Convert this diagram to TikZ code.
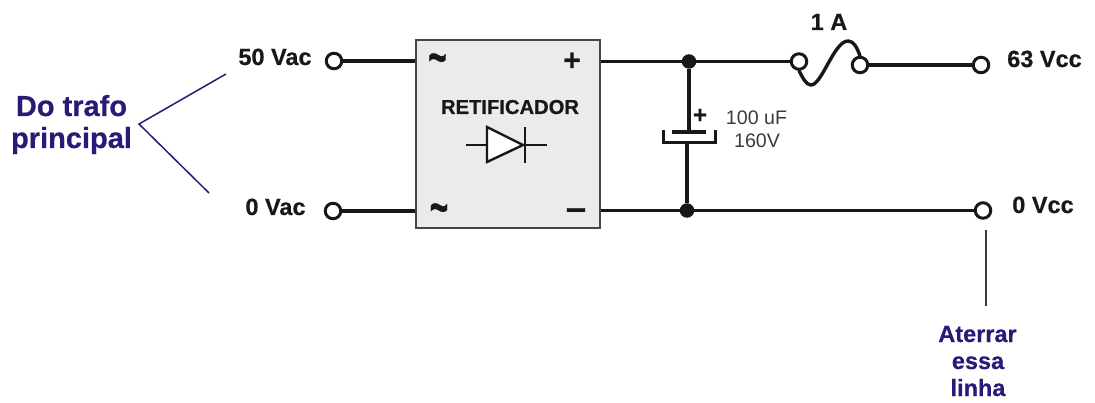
\documentclass[tikz,border=0pt]{standalone}
\usepackage{graphicx}
\usepackage{fontspec}
\setmainfont[BoldFeatures={FakeBold=0.5}]{Liberation Sans}
\definecolor{navy}{HTML}{2A1A78}
\definecolor{ink}{HTML}{1A1718}
\tikzset{
  wire/.style={draw=ink,line width=3.4pt},
  thin wire/.style={draw=ink,line width=2.4pt},
  term/.style={circle,draw=ink,line width=3pt,fill=white,minimum size=15.5pt,inner sep=0pt},
  fuseterm/.style={circle,draw=ink,line width=3pt,fill=white,minimum size=15.5pt,inner sep=0pt},
  dot/.style={circle,fill=ink,minimum size=14.5pt,inner sep=0pt},
  lbl/.style={anchor=base,font=\bfseries\fontsize{23.5}{27}\selectfont,text=ink,inner sep=0pt},
  blue/.style={anchor=base,font=\bfseries\fontsize{29}{33}\selectfont,text=navy,inner sep=0pt},
  bluesm/.style={anchor=base,font=\bfseries\fontsize{23.5}{27}\selectfont,text=navy,inner sep=0pt},
  val/.style={anchor=base,font=\fontsize{19.6}{23}\selectfont,text=ink!85,inner sep=0pt},
  sign/.style={anchor=center,font=\bfseries\fontsize{30}{30}\selectfont,text=ink,inner sep=0pt},
  navyline/.style={draw=navy,line width=1.5pt},
}
\begin{document}
\begin{tikzpicture}[x=1pt,y=-1pt]
\useasboundingbox (0,0) rectangle (1095,403);
% labels
\node[lbl] (l50) at (275,65) {50 Vac};
\node[lbl] (l0) at (275.5,215) {0 Vac};
\node[lbl] (l63) at (1044.5,67) {63 Vcc};
\node[lbl] (l0c) at (1043,213) {0 Vcc};
\node[lbl] (l1a) at (829,30) {1 A};
\node[blue] (do) at (71.5,116) {Do trafo};
\node[blue] (pr) at (71.5,148) {principal};
\node[bluesm] (at1) at (977.5,342) {Aterrar};
\node[bluesm] (at2) at (978,369) {essa};
\node[bluesm] (at3) at (978,396) {linha};
\node[val] (v1) at (756.5,125) {100 uF};
\node[val] (v2) at (757,148) {160V};
% bridge
\node[draw=ink!80,line width=1.4pt,fill=black!8,minimum width=184pt,minimum height=188pt,inner sep=0pt] (box) at (508,134) {};
\node[anchor=base,font=\bfseries\fontsize{20.2}{24}\selectfont,text=ink,inner sep=0pt] (ret) at (510,114) {RETIFICADOR};
\node[sign] (s1) at (437.5,64.5) {\scalebox{1}[1.7]{\fontsize{32}{32}\selectfont\char"007E}};
\node[sign] (s2) at (439,214.5) {\scalebox{1}[1.7]{\fontsize{32}{32}\selectfont\char"007E}};
\node[sign] (s3) at (572,61.5) {+};
\node[sign] (s4) at (576,214) {\fontsize{36}{36}\selectfont\char"2013};
% terminals
\node[term] (t50) at (334,61) {};
\node[term] (t0) at (333,211) {};
\node[term] (t63) at (981,65) {};
\node[term] (t0c) at (983,210.5) {};
\node[fuseterm] (f1) at (799,61.5) {};
\node[fuseterm] (f2) at (860,65) {};
\node[dot] (j1) at (689,61.5) {};
\node[dot] (j2) at (687,210.5) {};
\coordinate (b1l) at (box.west |- t50);
\coordinate (b2l) at (box.west |- t0);
\coordinate (b1r) at (box.east |- j1);
\coordinate (b2r) at (box.east |- j2);
% wires
\draw[wire] (t50) -- (b1l);
\draw[wire] (t0) -- (b2l);
\draw[wire] (b1r) -- (j1) -- (f1);
\draw[wire] (b2r) -- (j2) -- (t0c);
\draw[wire] (f2) -- (t63);
% fuse
\draw[wire,line cap=round] (f1.south) .. controls (803,78) and (806,85) .. (811,85)
  .. controls (822,85) and (834,41) .. (848,41) .. controls (854,41) and (857,48) .. (f2.north);
% capacitor
\coordinate (cp) at (j1 |- 0,131);
\coordinate (cn) at (j2 |- 0,142);
\draw[wire] (j1) -- (cp);
\draw[wire] (cn) -- (j2);
\draw[draw=ink,line width=3.6pt] (672,132) -- (706,132);
\draw[draw=ink,line width=3.4pt,line join=miter] (663.5,130.5) -- (663.5,142.5) -- (715.5,142.5) -- (715.5,130.5);
\node[sign,font=\bfseries\fontsize{24}{24}\selectfont] (cplus) at (700,116) {+};
% diode
\draw[thin wire,fill=white,line join=miter] (487,127) -- (523,145) -- (487,162) -- cycle;
\draw[thin wire] (466,145) -- (487,145);
\draw[thin wire] (525,145) -- (547,145);
\draw[thin wire] (525,127) -- (525,163);
% callouts
\coordinate (ap) at (139,124);
\coordinate (ca) at (226,74);
\coordinate (cb) at (209,193);
\draw[navyline] (ca) -- (ap) -- (cb);
\coordinate (g1) at (986,230);
\coordinate (g2) at (986,306);
\draw[draw=ink!85,line width=1.5pt] (g1) -- (g2);
\end{tikzpicture}
\end{document}
